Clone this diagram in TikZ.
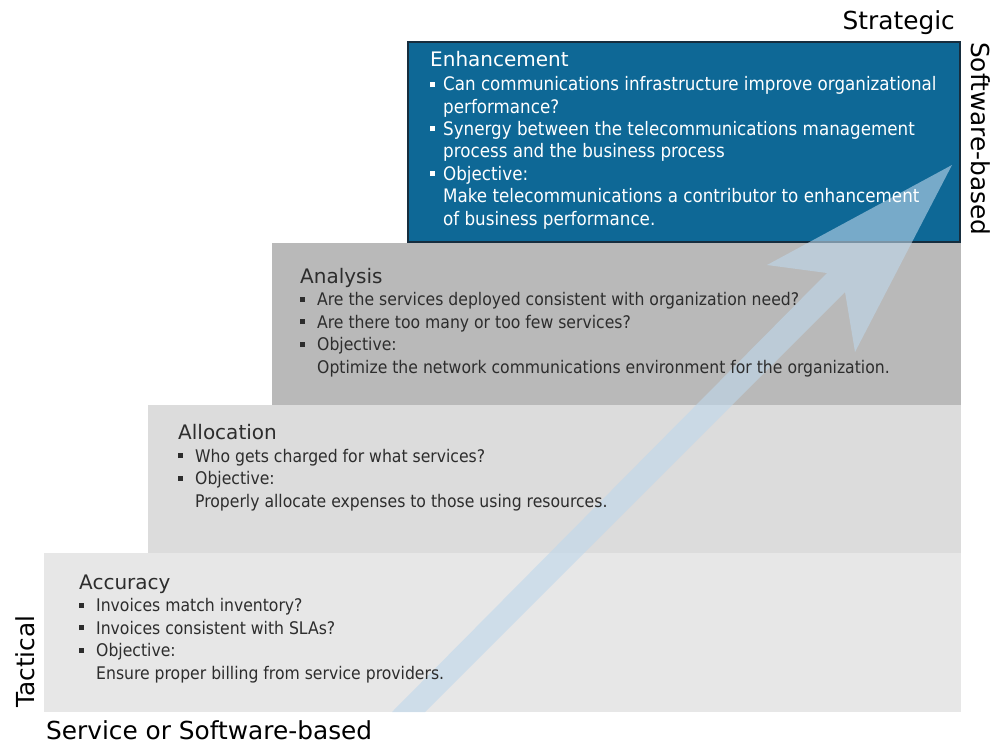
\documentclass[tikz,border=0pt]{standalone}
\usepackage{fontspec}
\setmainfont{DejaVu Sans}
\newfontfamily\condfont{DejaVu Sans Condensed}
\usetikzlibrary{positioning}

\definecolor{enhblue}{RGB}{14,104,150}
\definecolor{enhedge}{RGB}{22,45,62}
\definecolor{anagray}{RGB}{185,185,185}
\definecolor{alogray}{RGB}{220,220,220}
\definecolor{accgray}{RGB}{231,231,231}
\definecolor{arrowblue}{RGB}{190,215,235}
\definecolor{bodytext}{RGB}{45,45,45}

\newlength{\bulletw}
\setlength{\bulletw}{17pt}
\newcommand{\sqb}{\makebox[\bulletw][l]{\rule[4pt]{5pt}{5pt}}}
\newcommand{\ind}{\hspace*{\bulletw}}
\newcommand{\steptitle}[1]{{\fontsize{20}{22.4}\selectfont #1}}

\begin{document}
\begin{tikzpicture}[x=1pt, y=-1pt,
  bulletw/.code={\setlength{\bulletw}{#1}},
  % the base of a step text is the baseline of its last line
  steptext/.style={anchor=base west, align=left, inner sep=0pt, text=bodytext,
    font=\condfont\fontsize{17.4}{22.4}\selectfont},
  enhtext/.style={steptext, text=white, bulletw=13pt,
    font=\condfont\fontsize{18.6}{22.4}\selectfont},
  sidelabel/.style={inner sep=0pt, font=\fontsize{24.8}{30}\selectfont}]

  \useasboundingbox (0,0) rectangle (993,745);

  % the four steps, bottom to top
  \fill[accgray] (44,553) rectangle (961,712);
  \fill[alogray] (148,405) rectangle (961,553);
  \fill[anagray] (272,243) rectangle (961,405);
  \filldraw[fill=enhblue, draw=enhedge, line width=1.5pt] (408,42) rectangle (960,242);

  % rising arrow behind the text
  \fill[arrowblue, fill opacity=0.6]
    (392,712) -- (827,273) -- (767,265) -- (952,165) -- (855,352) -- (845,292) -- (425,712) -- cycle;

  \node[enhtext] (enh) at (430,225) {%
    \steptitle{\rmfamily Enhancement}\\[2pt]
    \sqb Can communications infrastructure improve organizational\\
    \ind performance?\\
    \sqb Synergy between the telecommunications management\\
    \ind process and the business process\\
    \sqb Objective:\\
    \ind Make telecommunications a contributor to enhancement\\
    \ind of business performance.};

  \node[steptext] (ana) at (300,373) {%
    \steptitle{\rmfamily Analysis}\\
    \sqb Are the services deployed consistent with organization need?\\
    \sqb Are there too many or too few services?\\
    \sqb Objective:\\
    \ind Optimize the network communications environment for the organization.};

  \node[steptext] (alo) at (178,507) {%
    \steptitle{\rmfamily Allocation}\\
    \sqb Who gets charged for what services?\\
    \sqb Objective:\\
    \ind Properly allocate expenses to those using resources.};

  \node[steptext] (acc) at (79,679) {%
    \steptitle{\rmfamily Accuracy}\\
    \sqb Invoices match inventory?\\
    \sqb Invoices consistent with SLAs?\\
    \sqb Objective:\\
    \ind Ensure proper billing from service providers.};

  % axis labels
  \node[sidelabel, anchor=base east] (strategic) at (955,29) {Strategic};
  \node[sidelabel, anchor=base west, rotate=-90] (swbased) at (971,42) {Software-based};
  \node[sidelabel, anchor=base west, rotate=90] (tactical) at (34,708) {Tactical};
  \node[sidelabel, anchor=base west] (service) at (46,739) {Service or Software-based};
\end{tikzpicture}
\end{document}
